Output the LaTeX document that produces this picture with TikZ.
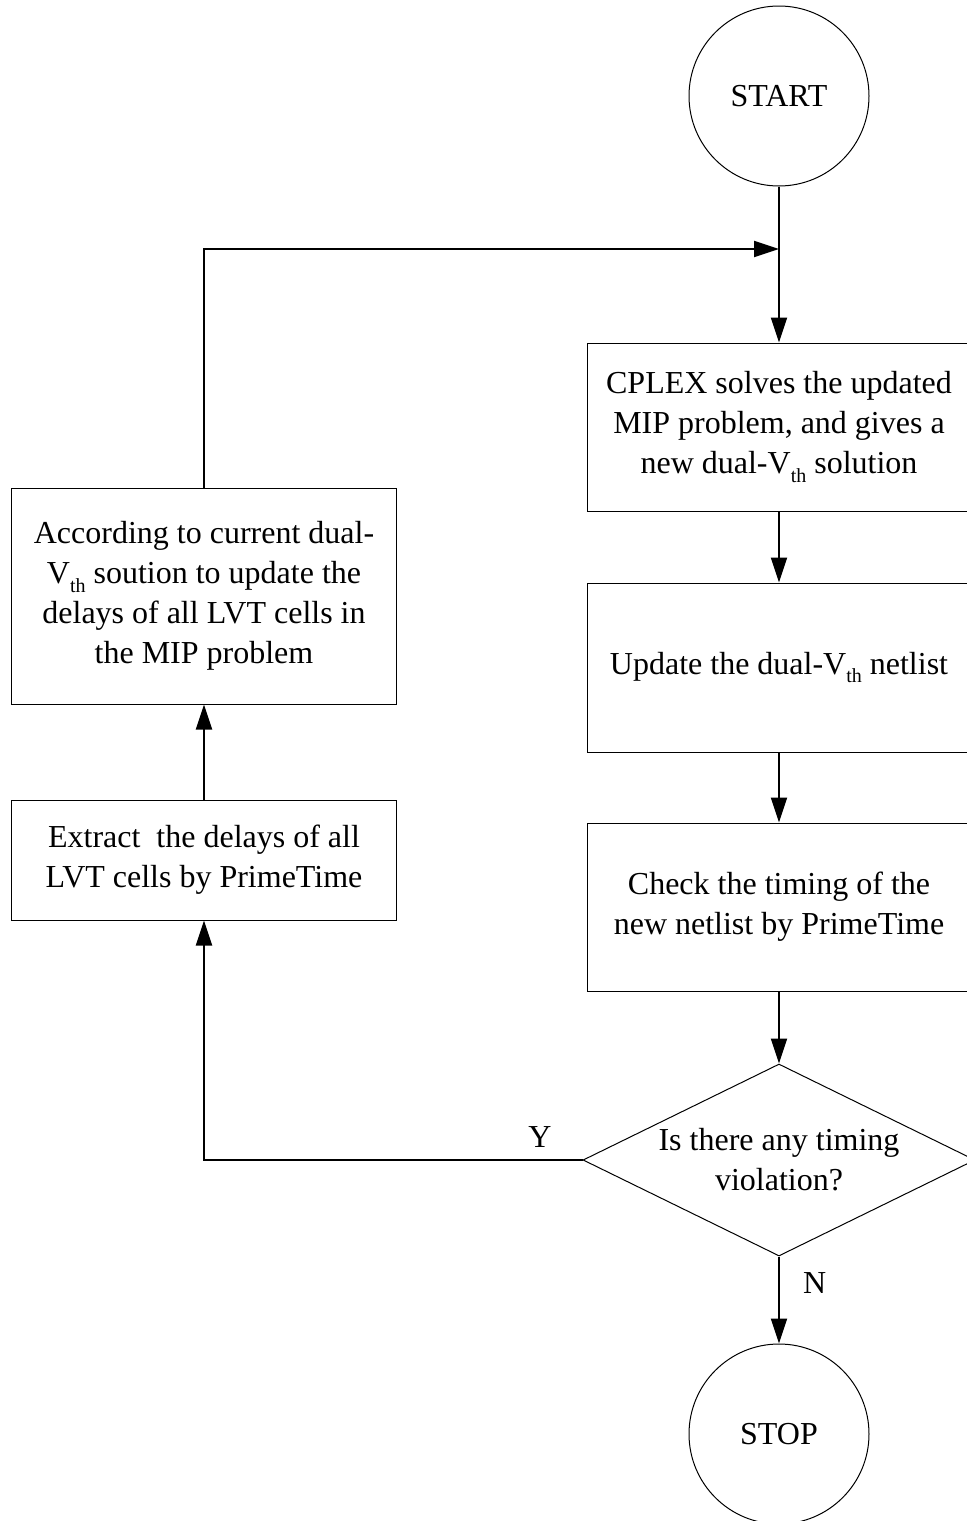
\documentclass[tikz,border=0pt]{standalone}
\usepackage{fontspec}
\setmainfont{Liberation Serif}
\usetikzlibrary{arrows.meta,shapes.geometric}
\newcommand{\vthsub}{\raisebox{-6.5pt}{\fontsize{15pt}{15pt}\selectfont th}}
\begin{document}
\begin{tikzpicture}[x=0.75pt,y=-0.75pt,
  every node/.style={font=\fontsize{24pt}{30pt}\selectfont},
  boxnode/.style={draw, line width=0.75pt, inner sep=0pt, align=center, minimum width=288pt},
  termnode/.style={draw, circle, line width=0.75pt, inner sep=0pt, minimum size=135pt},
  decnode/.style={draw, diamond, line width=0.75pt, inner sep=0pt, minimum width=294pt, minimum height=144pt},
  conn/.style={line width=1.5pt},
  arr/.style={conn, -{Triangle[length=18.75pt,width=12pt]}}]
\useasboundingbox (0,0) rectangle (967,1521);
\clip (0,0) rectangle (967,1521);

\node[termnode] (start) at (779,96) {START};
\node[boxnode, minimum height=126pt] (solve) at (779,427) {CPLEX solves the updated\\MIP problem, and gives a\\new dual-V\vthsub\ solution};
\node[boxnode, minimum height=126.75pt] (upd) at (779,667.5) {Update the dual-V\vthsub\ netlist};
\node[boxnode, minimum height=126pt] (check) at (779,907) {Check the timing of the\\new netlist by PrimeTime};
\node[decnode] (dec) at (779,1160) {};
\node[align=center] (dectext) at (779,1160) {Is there any timing\\violation?};
\node[termnode] (stop) at (779,1434) {STOP};

\node[boxnode, minimum width=288.75pt, minimum height=162pt] (accord) at (204,596) {According to current dual-\\V\vthsub\ soution to update the\\delays of all LVT cells in\\the MIP problem};
\node[boxnode, minimum width=288.75pt, minimum height=90pt] (extract) at (204,860) {Extract\ \ the delays of all\\LVT cells by PrimeTime};

\coordinate (merge) at (779,249);

\draw[arr] (start.south) -- (solve.north);
\draw[arr] (accord.north) |- (merge);
\draw[arr] (solve.south) -- (upd.north);
\draw[arr] (upd.south) -- (check.north);
\draw[arr] (check.south) -- (dec.north);
\draw[arr] (dec.south) -- node[right=14pt, pos=0.3] {N} (stop.north);
\draw[arr] (dec.west) -| (extract.south);
\node (ylab) at (540,1137) {Y};
\draw[arr] (extract.north) -- (accord.south);
\end{tikzpicture}
\end{document}
